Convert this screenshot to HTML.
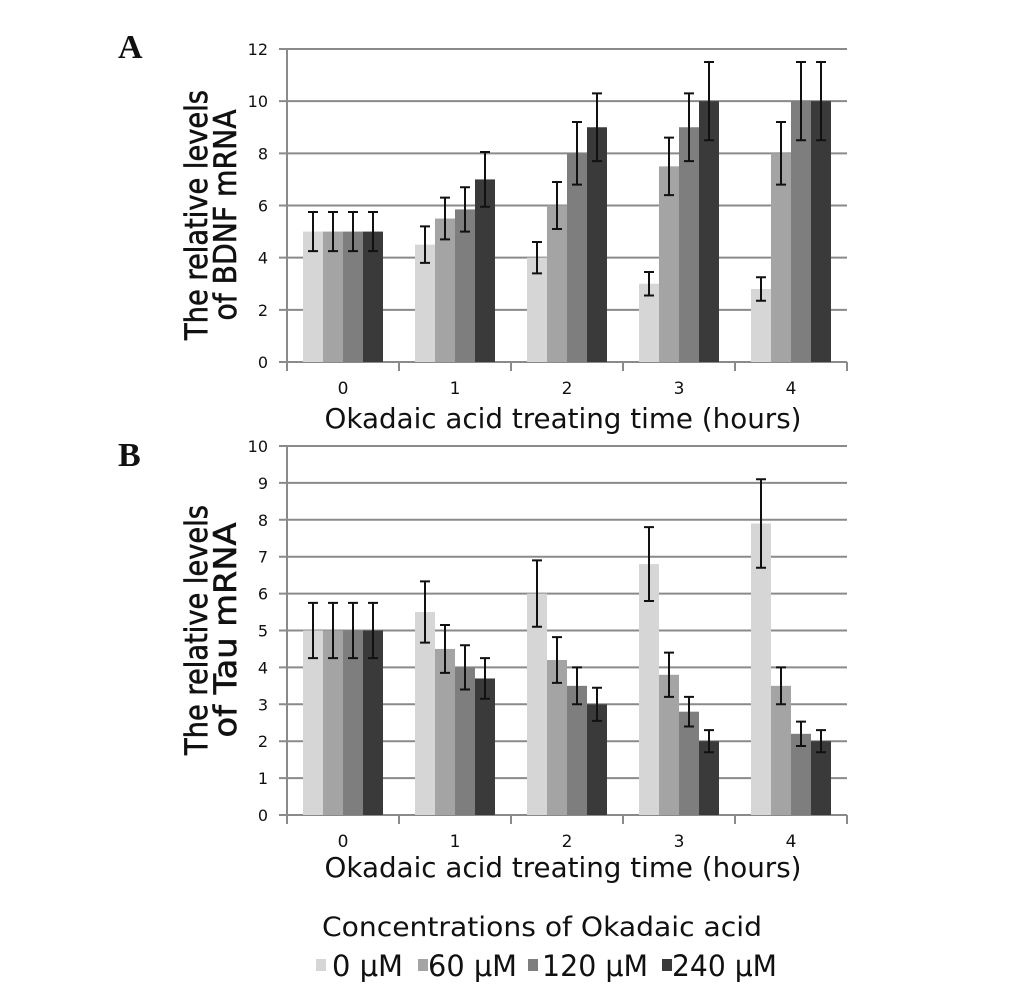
<!DOCTYPE html>
<html><head><meta charset="utf-8"><style>
body{margin:0;background:#fff;width:1033px;height:1002px;overflow:hidden}
svg{display:block}
text{font-family:"DejaVu Sans","Liberation Sans",sans-serif;fill:#111}
</style></head><body>
<svg id="fig" width="1033" height="1002">
<text x="118" y="58" style="font-family:'Liberation Serif',serif;font-weight:bold;font-size:34px">A</text>
<text x="118" y="466" style="font-family:'Liberation Serif',serif;font-weight:bold;font-size:34px">B</text>
<g id="chartA"></g>
<g id="chartB"></g>
<g>
<text x="322" y="936" font-size="27" textLength="440" lengthAdjust="spacingAndGlyphs">Concentrations of Okadaic acid</text>
<g id="legendItems"></g>
</g>
</svg>
<script>
const categories=["0","1","2","3","4"];
const seriesNames=["0 μM","60 μM","120 μM","240 μM"];
const colors=["#d6d6d6","#a4a4a4","#7e7e7e","#3a3a3a"];
// Panel A (BDNF)
const a0=[5,4.5,4,3,2.8], a60=[5,5.5,6,7.5,8], a120=[5,5.85,8,9,10], a240=[5,7,9,10,10];
const aE0=[0.75,0.7,0.6,0.45,0.45], aE60=[0.75,0.8,0.9,1.1,1.2], aE120=[0.75,0.85,1.2,1.3,1.5], aE240=[0.75,1.05,1.3,1.5,1.5];
const aTicks=[0,2,4,6,8,10,12];
// Panel B (Tau)
const b0=[5,5.5,6,6.8,7.9], b60=[5,4.5,4.2,3.8,3.5], b120=[5,4,3.5,2.8,2.2], b240=[5,3.7,3,2,2];
const bE0=[0.75,0.83,0.9,1,1.2], bE60=[0.75,0.65,0.62,0.6,0.5], bE120=[0.75,0.6,0.5,0.4,0.33], bE240=[0.75,0.55,0.45,0.3,0.3];
const bTicks=[0,1,2,3,4,5,6,7,8,9,10];

const NS="http://www.w3.org/2000/svg";
function mk(p,tag,attrs){const e=document.createElementNS(NS,tag);for(const k in attrs)e.setAttribute(k,attrs[k]);p.appendChild(e);return e;}

function drawChart(g,cfg){
  const {x0,x1,yTop,yBot,max,ticks,series,errs,title1,title2,tcy,xTitleY,l1,l2}=cfg;
  const catW=(x1-x0)/categories.length;
  const y=v=>yBot-(v/max)*(yBot-yTop);
  ticks.forEach(t=>{
    const l=mk(g,'line',{x1:x0-8,x2:x1,y1:y(t),y2:y(t),stroke:'#8a8a8a','stroke-width':2});
    
    
    const tx=mk(g,'text',{x:x0-19,y:y(t)+6,'text-anchor':'end','font-size':16});
    tx.textContent=t;
    
    
  });
  const ax=mk(g,'line',{x1:x0,x2:x0,y1:yTop,y2:yBot+8,stroke:'#8a8a8a','stroke-width':2});
  
  
  for(let i=0;i<=categories.length;i++){
    const tl=mk(g,'line',{x1:x0+i*catW,x2:x0+i*catW,y1:yBot,y2:yBot+9,stroke:'#8a8a8a','stroke-width':2});
    
    
  }
  const bw=20, off=(catW-bw*4)/2;
  categories.forEach((c,i)=>{
    series.forEach((s,j)=>{
      const bx=x0+i*catW+off+j*bw;
      const r=mk(g,'rect',{x:bx,y:y(s[i]),width:bw,height:yBot-y(s[i]),fill:colors[j]});
      
      
      const cx=bx+bw/2, hi=y(s[i]+errs[j][i]), lo=y(s[i]-errs[j][i]);
      const e=mk(g,'path',{d:`M${cx},${hi}V${lo}M${cx-5},${hi}H${cx+5}M${cx-5},${lo}H${cx+5}`,stroke:'#111','stroke-width':2,fill:'none'});
      
      
    });
    const lt=mk(g,'text',{x:x0+(i+0.5)*catW,y:yBot+32,'text-anchor':'middle','font-size':17});
    lt.textContent=c;
    
    
  });
  const xt=mk(g,'text',{x:(x0+x1)/2-4,y:xTitleY,'text-anchor':'middle','font-size':28,textLength:477,lengthAdjust:'spacingAndGlyphs'});
  xt.textContent='Okadaic acid treating time (hours)';
  
  
  const yt=mk(g,'text',{transform:`translate(207,${tcy}) rotate(-90)`,'text-anchor':'middle','font-size':31,'stroke':'#111','stroke-width':0.6,textLength:l1,lengthAdjust:'spacingAndGlyphs'});
  yt.textContent=title1;
  
  
  const yt2=mk(g,'text',{transform:`translate(236,${tcy}) rotate(-90)`,'text-anchor':'middle','font-size':31,'stroke':'#111','stroke-width':0.6,textLength:l2,lengthAdjust:'spacingAndGlyphs'});
  yt2.textContent=title2;
  
  
}
drawChart(document.getElementById('chartA'),{x0:287,x1:847,yTop:49,yBot:362,max:12,ticks:aTicks,
  series:[a0,a60,a120,a240],errs:[aE0,aE60,aE120,aE240],title1:'The relative levels',title2:'of BDNF mRNA',tcy:215,xTitleY:428,l1:250,l2:211});
drawChart(document.getElementById('chartB'),{x0:287,x1:847,yTop:446,yBot:815,max:10,ticks:bTicks,
  series:[b0,b60,b120,b240],errs:[bE0,bE60,bE120,bE240],title1:'The relative levels',title2:'of  Tau mRNA',tcy:630,xTitleY:877,l1:250,l2:215});
const lg=document.getElementById('legendItems');
const lx=[316,418,528,662];
const tx=[332,428,542,672];
const lw=[71,89,106,105];
seriesNames.forEach((n,j)=>{
  const r=mk(lg,'rect',{x:lx[j],y:959,width:10,height:12,fill:colors[j]});
  
  
  const t=mk(lg,'text',{x:tx[j],y:976,'font-size':29,textLength:lw[j],lengthAdjust:'spacingAndGlyphs'});
  t.textContent=n;
  
  
});
</script>
</body></html>
